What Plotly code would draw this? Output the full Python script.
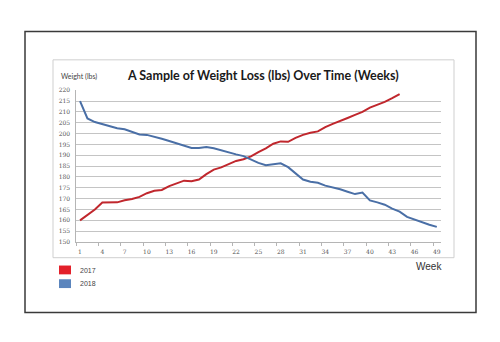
import plotly.graph_objects as go

# Weekly weight readings (lbs)
weeks_2017 = list(range(1, 45))
weight_2017 = [160.0, 162.5, 165.0, 168.2, 168.2, 168.3, 169.3, 169.8, 170.8, 172.5,
               173.6, 174.0, 175.8, 177.0, 178.3, 178.0, 178.8, 181.3, 183.4, 184.4,
               186.0, 187.4, 188.2, 189.5, 191.5, 193.2, 195.3, 196.4, 196.2, 198.0,
               199.4, 200.4, 201.0, 203.0, 204.5, 206.0, 207.2, 208.6, 210.0, 212.0,
               213.2, 214.6, 216.3, 218.2]

weeks_2018 = list(range(1, 50))
weight_2018 = [215.0, 207.0, 205.3, 204.4, 203.4, 202.5, 202.0, 200.8, 199.6, 199.4,
               198.6, 197.6, 196.6, 195.6, 194.5, 193.4, 193.4, 193.8, 193.2, 192.2,
               191.3, 190.4, 189.6, 188.0, 186.5, 185.4, 185.8, 186.3, 184.5, 181.5,
               178.8, 177.8, 177.3, 176.0, 175.2, 174.3, 173.2, 172.1, 172.8, 169.2,
               168.3, 167.2, 165.4, 164.0, 161.6, 160.3, 159.0, 158.0, 157.0]

x_tick_vals = list(range(1, 50, 3))
y_tick_vals = list(range(150, 225, 5))
series_names = ["2017", "2018"]
title_text = "A Sample of Weight Loss (lbs) Over Time (Weeks)"

W, H = 500, 342
RED_LINE, BLUE_LINE = "#c0272d", "#4a6fa6"
RED_KEY, BLUE_KEY = "#e3202a", "#5b85bd"


def px_x(p):
    return p / W


def px_y(p):
    return 1 - p / H


fig = go.Figure()
fig.add_trace(go.Scatter(x=weeks_2017, y=weight_2017, mode="lines", name=series_names[0],
                         line=dict(color=RED_LINE, width=2)))
fig.add_trace(go.Scatter(x=weeks_2018, y=weight_2018, mode="lines", name=series_names[1],
                         line=dict(color=BLUE_LINE, width=2)))

shapes = [
    # outer frame
    dict(type="rect", xref="paper", yref="paper", x0=px_x(25), x1=px_x(476),
         y0=px_y(315), y1=px_y(28), line=dict(color="#3a3a3a", width=1.5), layer="below"),
    # chart area frame
    dict(type="rect", xref="paper", yref="paper", x0=px_x(53), x1=px_x(454),
         y0=px_y(259), y1=px_y(57), line=dict(color="#cfcfcf", width=1), layer="below"),
    # legend keys
    dict(type="rect", xref="paper", yref="paper", x0=px_x(59), x1=px_x(71),
         y0=px_y(276), y1=px_y(267), fillcolor=RED_KEY, line=dict(width=0)),
    dict(type="rect", xref="paper", yref="paper", x0=px_x(59), x1=px_x(71),
         y0=px_y(290), y1=px_y(281), fillcolor=BLUE_KEY, line=dict(width=0)),
]

annotations = [
    dict(text="<b>" + title_text + "</b>", xref="paper", yref="paper", x=px_x(263), y=px_y(73),
         showarrow=False, xanchor="center", yanchor="middle",
         font=dict(family="Lato", size=12.5, color="#1a1a1a")),
    dict(text="Weight (lbs)", xref="paper", yref="paper", x=px_x(59), y=px_y(74),
         showarrow=False, xanchor="left", yanchor="middle",
         font=dict(family="Lato", size=7, color="#444")),
    dict(text="Week", xref="paper", yref="paper", x=px_x(444), y=px_y(268),
         showarrow=False, xanchor="right", yanchor="middle",
         font=dict(family="Liberation Sans", size=10, color="#333")),
    dict(text=series_names[0], xref="paper", yref="paper", x=px_x(78), y=px_y(272),
         showarrow=False, xanchor="left", yanchor="middle",
         font=dict(family="Liberation Sans", size=7, color="#444")),
    dict(text=series_names[1], xref="paper", yref="paper", x=px_x(78), y=px_y(285),
         showarrow=False, xanchor="left", yanchor="middle",
         font=dict(family="Liberation Sans", size=7, color="#444")),
]

fig.update_layout(
    width=W, height=H,
    margin=dict(l=0, r=0, t=0, b=0),
    paper_bgcolor="white", plot_bgcolor="white",
    showlegend=False,
    shapes=shapes,
    annotations=annotations,
    xaxis=dict(
        domain=[px_x(76.3), px_x(440.5)],
        range=[0.5, 49.5],
        tickmode="array", tickvals=x_tick_vals, ticktext=[str(v) for v in x_tick_vals],
        ticks="", showgrid=False, zeroline=False,
        showline=True, linecolor="#b5b5b5", linewidth=1,
        ticklabelstandoff=4,
        tickfont=dict(family="DejaVu Serif", size=6, color="#555"),
        minor=dict(tickmode="array", tickvals=[0.5 + 3 * k for k in range(17)],
                   ticks="outside", ticklen=3, tickcolor="#b5b5b5", showgrid=False),
    ),
    yaxis=dict(
        domain=[px_y(243), px_y(88)],
        range=[150, 220],
        tickmode="array", tickvals=y_tick_vals,
        ticks="", showgrid=True, gridcolor="#c4c4c4", gridwidth=1,
        zeroline=False, showline=True, linecolor="#b5b5b5", linewidth=1,
        ticklabelstandoff=4,
        tickfont=dict(family="DejaVu Serif", size=6, color="#555"),
    ),
)

fig.write_html("out.html")
